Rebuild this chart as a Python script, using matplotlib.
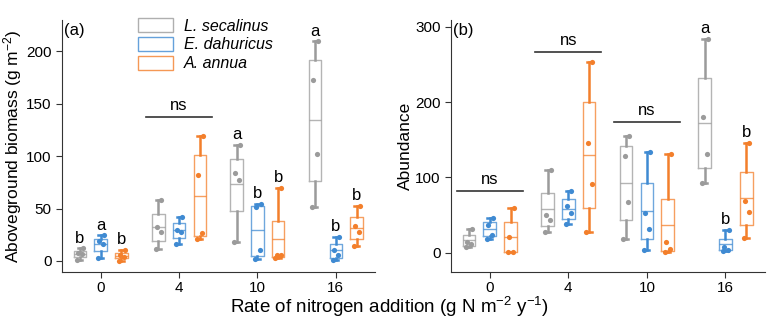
import numpy as np
import matplotlib.pyplot as plt
from matplotlib.patches import Patch

plt.rcParams["font.family"] = ["Liberation Sans", "DejaVu Sans"]
plt.rcParams["mathtext.default"] = "regular"

# ── Data ─────────────────────────────────────────────────────────────────────
N_LEVELS = ["0", "4", "10", "16"]
SPECIES  = ["L. secalinus", "E. dahuricus", "A. annua"]
COLORS   = ["#9b9b9b", "#3f8ad2", "#f37f2b"]

# (a) aboveground biomass: one list per species, one value per N level
bio_med = [[6.7, 32, 73.2, 134.4], [16, 30, 29.3, 10.8], [4.8, 62.4, 21, 31.8]]
bio_q1  = [[4.1, 19.4, 47.5, 76.8], [9.9, 22.3, 5.1, 3.2], [2.5, 23.9, 4.1, 21]]
bio_q3  = [[9.9, 45.2, 97.1, 191.4], [21, 36.6, 52.9, 16.6], [7.3, 101, 37.9, 42.4]]
bio_lo  = [[1, 11.5, 18.5, 51.9], [2.5, 16.6, 1.6, 1], [0, 20.7, 2.9, 14.6]]
bio_hi  = [[12, 58, 110.5, 209.6], [24.5, 41.7, 54.5, 22.9], [10.5, 119.7, 70, 52.5]]
bio_pts = [
    [[1, 6.7, 8, 12], [11.5, 28, 32, 58], [18.5, 77, 84.4, 110.5], [51.9, 102.2, 173.2, 209.6]],
    [[2.5, 16.5, 19.4, 24.5], [16.6, 28, 30, 41.7], [1.6, 10.8, 51.3, 54.5], [1, 5.7, 10.8, 22.9]],
    [[0, 3.5, 5.5, 10.5], [20.7, 26.4, 82.5, 119.7], [2.9, 5.4, 5.4, 70], [14.6, 27.4, 33.1, 52.5]],
]
bio_letters = [["b", "", "a", "a"], ["a", "", "b", "b"], ["b", "", "b", "b"]]
bio_ns_groups = [1]
bio_ns_y      = [137]

# (b) abundance
abu_med = [[17.3, 57.5, 92, 171.7], [31.4, 58.4, 55.3, 11.9], [21.2, 129.2, 37.2, 72.1]]
abu_q1  = [[9.3, 35, 42.9, 112.8], [21.7, 44.2, 18.1, 4], [1.3, 58.8, 1.8, 36.7]]
abu_q3  = [[23, 79.6, 141.2, 231.4], [41.2, 71.7, 92.5, 18.6], [40.7, 199.6, 71.7, 107]]
abu_lo  = [[7, 27, 18.6, 92], [18.6, 37.6, 4, 2.7], [1.3, 27.4, 0.4, 19.5]]
abu_hi  = [[31.9, 110, 154.9, 283.6], [46.5, 81.9, 133.2, 30.5], [59.7, 253.5, 130.5, 146]]
abu_pts = [
    [[7, 12, 13.7, 31.9], [27, 43.8, 50, 110], [18.6, 66.8, 127.9, 154.9], [92, 131.4, 180.5, 283.6]],
    [[18.6, 23, 37.2, 46.5], [37.6, 52.2, 61.5, 81.9], [4, 31.9, 52.2, 133.2], [2.7, 4, 8, 30.5]],
    [[1.3, 1.3, 21.2, 59.7], [27.4, 90.7, 145.6, 253.5], [0.4, 4.9, 14.2, 130.5], [19.5, 54.4, 68.6, 146]],
]
abu_letters = [["", "", "", "a"], ["", "", "", "b"], ["", "", "", "b"]]
abu_ns_groups = [0, 1, 2]
abu_ns_y      = [82, 266, 173]

OFFSETS = [-0.265, 0.0, 0.265]
JITTER  = np.array([-0.035, 0.03, -0.02, 0.04])


def draw_panel(ax, med, q1, q3, lo, hi, pts, letters, ns_groups, ns_y):
    for s, c in enumerate(COLORS):
        for g in range(len(N_LEVELS)):
            pos = g + OFFSETS[s]
            st = dict(med=med[s][g], q1=q1[s][g], q3=q3[s][g],
                      whislo=lo[s][g], whishi=hi[s][g])
            ax.bxp([st], positions=[pos], widths=0.16, capwidths=0.06,
                   showfliers=False, manage_ticks=False,
                   boxprops=dict(color=c, lw=1.0, alpha=0.75),
                   medianprops=dict(color=c, lw=1.0, alpha=0.75),
                   whiskerprops=dict(color=c, lw=1.8),
                   capprops=dict(color=c, lw=1.8))
            ax.scatter(pos + JITTER, pts[s][g], s=14, color=c, zorder=3, lw=0)
            if letters[s][g]:
                ax.annotate(letters[s][g], (pos, hi[s][g]), xytext=(0, 2),
                            textcoords="offset points", ha="center", va="bottom",
                            fontsize=12)
    for g, y in zip(ns_groups, ns_y):
        ax.plot([g - 0.42, g + 0.42], [y, y], color="#333333", lw=1.2)
        ax.annotate("ns", (g, y), xytext=(0, 3), textcoords="offset points",
                    ha="center", va="bottom", fontsize=12)
    ax.set_xticks(range(len(N_LEVELS)))
    ax.set_xticklabels(N_LEVELS)
    ax.set_xlim(-0.49, 3.5)
    for side in ("top", "right"):
        ax.spines[side].set_visible(False)
    for side in ("left", "bottom"):
        ax.spines[side].set_color("#333333")
    ax.tick_params(labelsize=11, color="#333333", length=4)
    ax.tick_params(axis="x", pad=2.5)


fig = plt.figure(figsize=(7.78, 3.23), dpi=100)
ax1 = fig.add_axes([0.080, 0.158, 0.402, 0.780])
ax2 = fig.add_axes([0.580, 0.158, 0.403, 0.780])

draw_panel(ax1, bio_med, bio_q1, bio_q3, bio_lo, bio_hi, bio_pts,
           bio_letters, bio_ns_groups, bio_ns_y)
ax1.set_ylim(-10.5, 230)
ax1.set_yticks([0, 50, 100, 150, 200])
ax1.set_ylabel("Aboveground biomass (g m$^{-2}$)", fontsize=12.5, labelpad=2)
ax1.text(0.005, 0.99, "(a)", transform=ax1.transAxes, fontsize=12, va="top")

draw_panel(ax2, abu_med, abu_q1, abu_q3, abu_lo, abu_hi, abu_pts,
           abu_letters, abu_ns_groups, abu_ns_y)
ax2.set_ylim(-25.6, 309)
ax2.set_yticks([0, 100, 200, 300])
ax2.set_ylabel("Abundance", fontsize=12.5, labelpad=2)
ax2.text(0.005, 0.99, "(b)", transform=ax2.transAxes, fontsize=12, va="top")

handles = [Patch(facecolor="white", edgecolor=c, alpha=0.8) for c in COLORS]
leg = ax1.legend(handles, SPECIES, loc="upper left", bbox_to_anchor=(0.195, 1.065),
                 frameon=False, handlelength=2.2, handleheight=1.0,
                 labelspacing=0.2, handletextpad=0.7, prop=dict(style="italic", size=11.5))

fig.text(0.5, 0.012, "Rate of nitrogen addition (g N m$^{-2}$ y$^{-1}$)",
         ha="center", va="bottom", fontsize=13.5)

fig.savefig("out.png", dpi=100)
